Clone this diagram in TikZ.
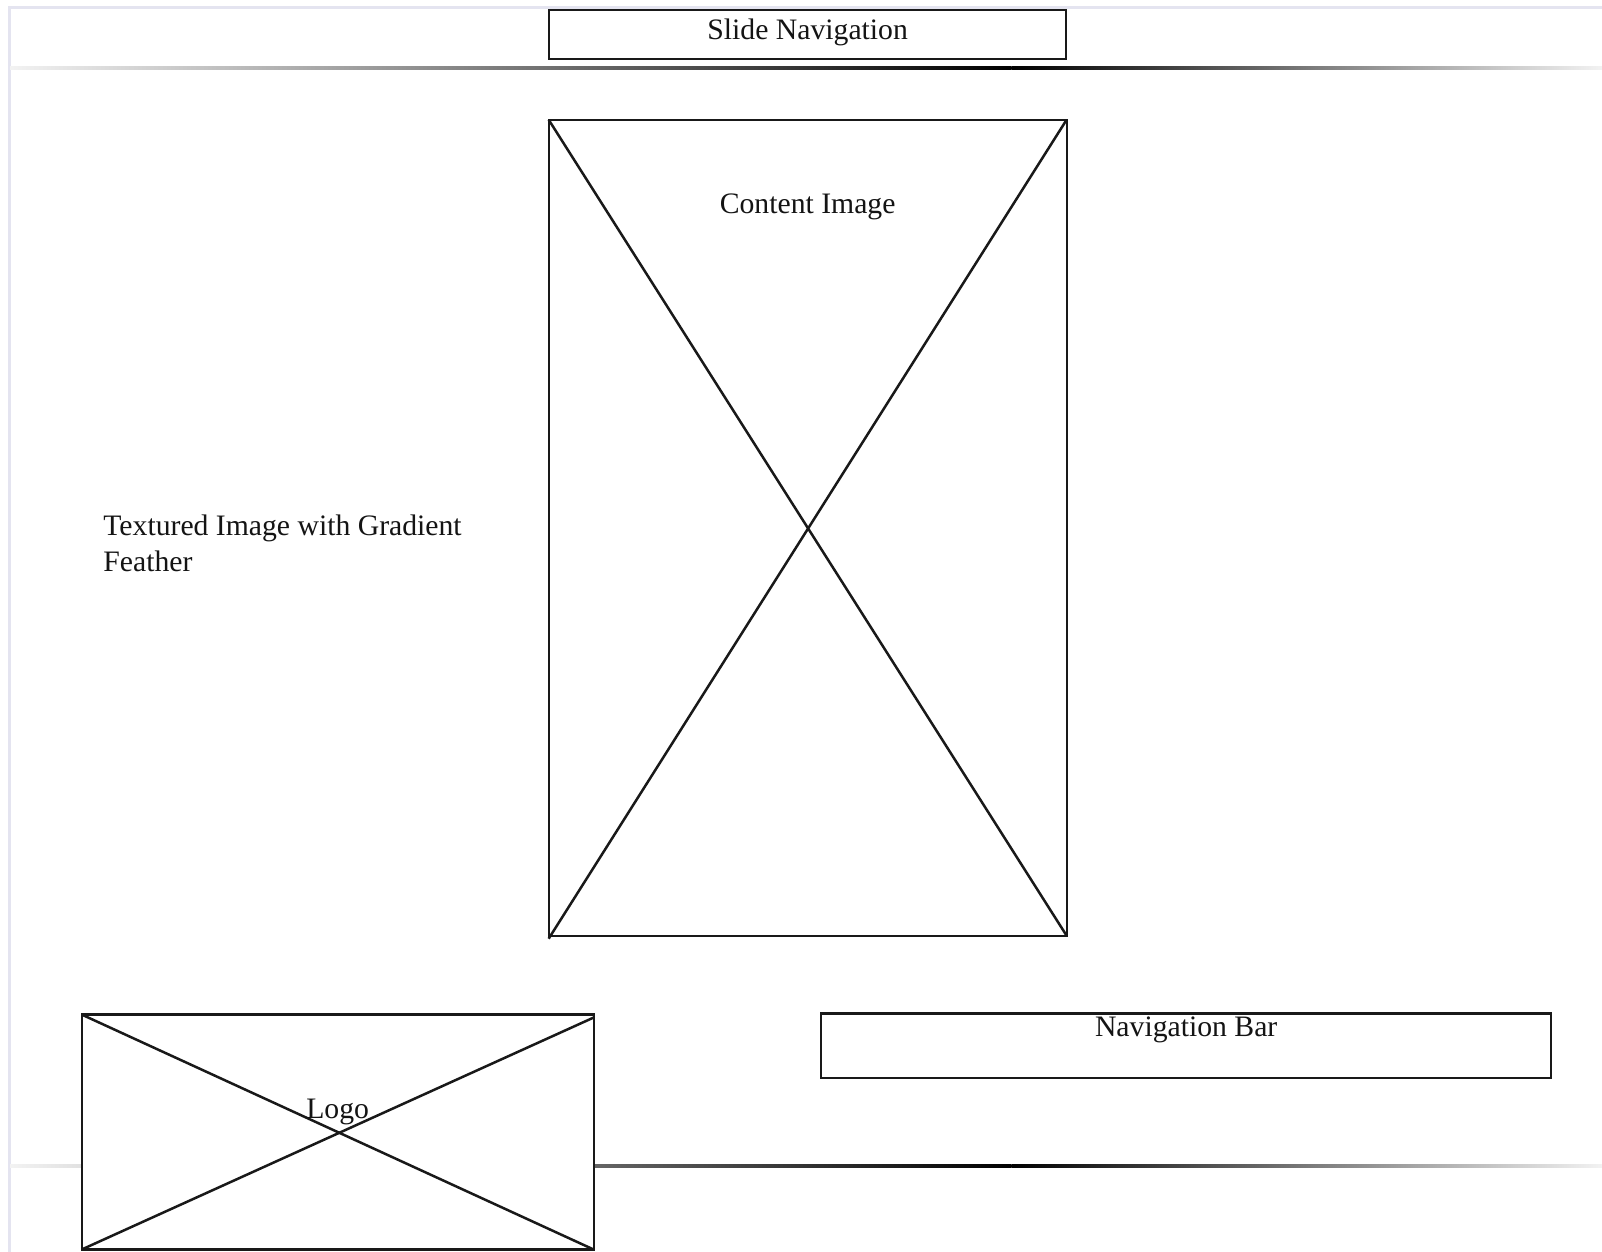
\documentclass[tikz,border=0pt]{standalone}
\usepackage{fontspec}
\setmainfont{Liberation Serif}
\begin{document}
\begin{tikzpicture}[x=1.02168pt,y=-1.02168pt,
  box/.style={draw=black!90, line width=2.1pt, fill=white, inner sep=0pt, outer sep=0pt},
  cross/.style={draw=black!90, line width=2.5pt},
  label/.style={font=\fontsize{29.7}{35}\selectfont, text=black!92, inner sep=0pt, anchor=base}
]
\useasboundingbox (0,0) rectangle (1568,1225.4);
\clip (0,0) rectangle (1568,1225.4);
\fill[white] (0,0) rectangle (1568,1225.4);
% lavender frame
\draw[draw={rgb,255:red,228;green,228;blue,240}, line width=3pt] (9,7) rectangle (2100,1400);
% gradient rules
\shade[left color=black!5, right color=black] (10,65.5) rectangle (990,68.5);
\shade[left color=black, right color=black!5] (990,65.5) rectangle (1568,68.5);
\shade[left color=black!5, right color=black] (10,1139.5) rectangle (990,1142.5);
\shade[left color=black, right color=black!5] (990,1139.5) rectangle (1568,1142.5);
% Slide navigation
\node[box, minimum width=517pt, minimum height=49pt] (slidenav) at (790.5,34) {};
\node[label] (slidenavtxt) at (790.5,38.5) {Slide Navigation};
% Content image
\node[box, minimum width=518pt, minimum height=816pt] (content) at (790.5,516.5) {};
\draw[cross] (content.north west) -- (content.south east);
\draw[cross] (content.north east) -- ([yshift=-3pt]content.south west);
\node[label] (contenttxt) at (790.5,208.5) {Content Image};
% Textured image text
\node[label, anchor=base west] (tex1) at (101,524.5) {Textured Image with Gradient};
\node[label, anchor=base west] (tex2) at (101,559.5) {Feather};
% Logo
\node[box, line width=2.2pt, minimum width=512pt, minimum height=235pt] (logo) at (330.5,1108) {};
\draw[line width=3pt, draw=black!90] (logo.north west) -- (logo.north east);
\draw[cross] (logo.north west) -- (logo.south east);
\draw[cross] ([yshift=-3pt]logo.north east) -- (logo.south west);
\node[label] (logotxt) at (330.5,1094.5) {Logo};
% Navigation bar
\node[box, minimum width=729.5pt, minimum height=64.4pt] (navbar) at (1161,1023.5) {};
\node[label] (navbartxt) at (1161,1014.5) {Navigation Bar};
\end{tikzpicture}
\end{document}
